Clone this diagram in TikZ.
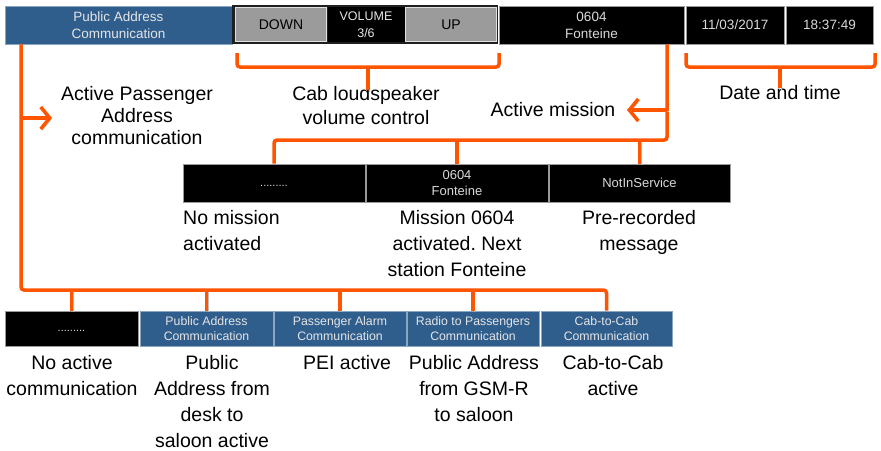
\documentclass[tikz,border=0pt]{standalone}
\usepackage{fontspec}
\setmainfont{Liberation Sans}
\usetikzlibrary{arrows.meta}
\definecolor{hmiblue}{RGB}{47,93,140}
\definecolor{hmiorange}{RGB}{255,85,0}
\definecolor{hmigray}{RGB}{155,155,155}
\frenchspacing

\begin{document}
\begin{tikzpicture}[x=1pt, y=-1pt,
    bluebox/.style={draw=hmiblue!55!white, fill=hmiblue, text=white!90!black, inner sep=0pt, align=center, line width=0.8pt},
    blackbox/.style={draw=black!40, fill=black, text=white!85!black, inner sep=0pt, align=center, line width=0.8pt},
    button/.style={draw=black!12, fill=hmigray, text=black, inner sep=0pt, line width=1pt, minimum width=91pt, minimum height=34pt, font=\fontsize{14}{16}\selectfont},
    bus/.style={draw=hmiorange, line width=3.5pt, rounded corners=3pt,
        preaction={draw=black!25, transform canvas={shift={(1.5pt,-1.5pt)}}}},
    busarrow/.style={bus, -{Straight Barb[length=9pt, width=22pt]}},
    remark/.style={inner sep=0pt, align=center, font=\fontsize{19.5}{26}\selectfont}]
    \useasboundingbox (0,0) rectangle (881,450);

    % Barre du haut
    \node[bluebox, minimum width=227pt, minimum height=38pt, font=\fontsize{13.5}{17}\selectfont] (pa) at (118.5,25) {Public Address\\Communication};
    \node[fill=black!88, inner sep=0pt, minimum width=266pt, minimum height=39pt] (volframe) at (365,24.5) {};
    \node[button] (down) at (281,24.5) {DOWN};
    \node[fill=black, text=white!90!black, inner sep=0pt, align=center, minimum width=77pt, minimum height=35pt, font=\fontsize{12.5}{17}\selectfont] (volume) at (366,24.5) {VOLUME\\3/6};
    \node[button] (up) at (451,24.5) {UP};
    \node[blackbox, minimum width=185pt, minimum height=38pt, font=\fontsize{13.5}{17}\selectfont] (mission) at (591.5,25) {0604\\Fonteine};
    \node[blackbox, minimum width=98pt, minimum height=38pt, font=\fontsize{13.5}{17}\selectfont] (date) at (735,25) {11/03/2017};
    \node[blackbox, minimum width=87pt, minimum height=38pt, font=\fontsize{13.5}{17}\selectfont] (time) at (829.5,25) {18:37:49};

    % Missions
    \node[blackbox, minimum width=182pt, minimum height=38pt, font=\fontsize{11}{15}\selectfont] (nomis) at (274,183) {\strut.........};
    \node[blackbox, minimum width=182pt, minimum height=38pt, font=\fontsize{13}{16}\selectfont] (mis) at (457,183) {0604\\Fonteine};
    \node[blackbox, minimum width=181pt, minimum height=38pt, font=\fontsize{13}{16}\selectfont] (notin) at (639.5,183) {NotInService};

    % Communications
    \node[blackbox, minimum width=133pt, minimum height=35pt, font=\fontsize{11}{15}\selectfont] (b1) at (71.5,328.5) {\strut.........};
    \node[bluebox, minimum width=133pt, minimum height=35pt, font=\fontsize{12.3}{15}\selectfont] (b2) at (206.5,328.5) {Public Address\\Communication};
    \node[bluebox, minimum width=132pt, minimum height=35pt, font=\fontsize{12.3}{15}\selectfont] (b3) at (340,328.5) {Passenger Alarm\\Communication};
    \node[bluebox, minimum width=132pt, minimum height=35pt, font=\fontsize{12.3}{15}\selectfont] (b4) at (473,328.5) {Radio to Passengers\\Communication};
    \node[bluebox, minimum width=131pt, minimum height=35pt, font=\fontsize{12.3}{15}\selectfont] (b5) at (606.5,328.5) {Cab-to-Cab\\Communication};

    % Textes
    \node[remark, anchor=north, font=\fontsize{19.5}{22}\selectfont] (palbl) at (137,86) {Active Passenger\\Address\\communication};
    \node[remark, anchor=north, font=\fontsize{19.5}{24}\selectfont] (cablbl) at (366,86) {Cab loudspeaker\\volume control};
    \node[remark, anchor=north] (datelbl) at (780,85) {Date and time};
    \node[remark] (amlbl) at (553,110) {Active mission};
    \node[remark, anchor=north west, align=left] (nomislbl) at (183,210) {No mission\\activated};
    \node[remark, anchor=north] (mislbl) at (457,210) {Mission 0604\\activated. Next\\station Fonteine};
    \node[remark, anchor=north] (prelbl) at (639,210) {Pre-recorded\\message};
    \node[remark, anchor=north] (b1lbl) at (72,355) {No active\\communication};
    \node[remark, anchor=north] (b2lbl) at (212,355) {Public\\Address from\\desk to\\saloon active};
    \node[remark, anchor=north] (b3lbl) at (347,355) {PEI active};
    \node[remark, anchor=north] (b4lbl) at (474,355) {Public Address\\from GSM-R\\to saloon};
    \node[remark, anchor=north] (b5lbl) at (613,355) {Cab-to-Cab\\active};

    % Accolades
    \coordinate (volbrace) at (368,67);
    \coordinate (datebrace) at (780,67);
    \draw[bus] (237,53) -- (237,67) -- (499,67) -- (499,53);
    \draw[bus] (volbrace) -- ([yshift=-4pt]volbrace |- cablbl.north);
    \draw[bus] (686,53) -- (686,67) -- (875,67) -- (875,53);
    \draw[bus] (datebrace) -- ([yshift=-3pt]datebrace |- datelbl.north);

    % Mission active
    \coordinate (mbus) at (667,140);
    \coordinate (amtip) at (627,110);
    \draw[bus] (mbus |- mission.south) -- (mbus) -| (nomis.north);
    \draw[bus] (mis.north) -- (mis.north |- mbus);
    \draw[bus] (notin.north) -- (notin.north |- mbus);
    \draw[busarrow] (mbus |- amtip) -- (amtip);

    % Communication active
    \coordinate (pbus) at (21,290);
    \coordinate (patip) at (52,118);
    \draw[bus] (pbus |- pa.south) -- (pbus) -| (b5.north);
    \foreach \b in {b1,b2,b3,b4}
        \draw[bus] (\b.north) -- (\b.north |- pbus);
    \draw[busarrow] (pbus |- patip) -- (patip);
\end{tikzpicture}
\end{document}
